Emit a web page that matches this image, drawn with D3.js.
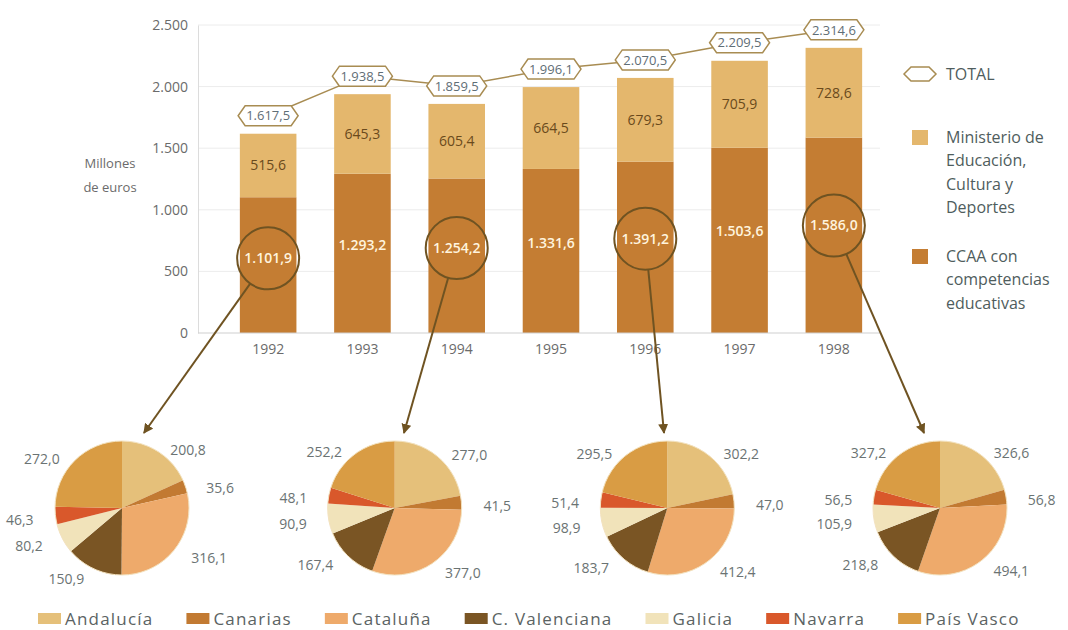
<!DOCTYPE html>
<html><head><meta charset="utf-8">
<script src="https://cdn.jsdelivr.net/npm/d3@7"></script>
<style>
body{margin:0;background:#fff;}
text{font-family:"Open Sans","Noto Sans",sans-serif;}
</style></head>
<body><svg id="c" width="1068" height="630"></svg>
<script>
// ---- data ----
const years = ["1992","1993","1994","1995","1996","1997","1998"];
const ministerio = [515.6, 645.3, 605.4, 664.5, 679.3, 705.9, 728.6];
const ccaa = [1101.9, 1293.2, 1254.2, 1331.6, 1391.2, 1503.6, 1586.0];
const totals = [1617.5, 1938.5, 1859.5, 1996.1, 2070.5, 2209.5, 2314.6];
const yTicks = [0, 500, 1000, 1500, 2000, 2500];
const pieYears = ["1992","1994","1996","1998"];
const regions = ["Andalucía","Canarias","Cataluña","C. Valenciana","Galicia","Navarra","País Vasco"];
const pie1992 = [200.8, 35.6, 316.1, 150.9, 80.2, 46.3, 272.0];
const pie1994 = [277.0, 41.5, 377.0, 167.4, 90.9, 48.1, 252.2];
const pie1996 = [302.2, 47.0, 412.4, 183.7, 98.9, 51.4, 295.5];
const pie1998 = [326.6, 56.8, 494.1, 218.8, 105.9, 56.5, 327.2];
const pieValues = [pie1992, pie1994, pie1996, pie1998];

// ---- setup ----
const svg = d3.select("#c");
svg.append("rect").attr("width",1068).attr("height",630).attr("fill","#fff");
const loc = d3.formatLocale({decimal:",", thousands:".", grouping:[3], currency:["","€"]});
const f1 = loc.format(",.1f"), f0 = loc.format(",.0f");

const plotL = 198, plotR = 880, plotB = 333, plotT = 25;
const x = d3.scaleBand().domain(years).range([221, 881]).paddingInner(0.4).paddingOuter(0.2);
const y = d3.scaleLinear().domain([0, 2500]).range([plotB, plotT]);

const cLight = "#e4b76d", cDark = "#c47d33";
const olive = "#a88c52", ring = "#6f5322";

// grid
svg.append("g").selectAll("line").data(yTicks.filter(d=>d>0)).join("line")
  .attr("x1", plotL).attr("x2", plotR).attr("y1", d=>y(d)).attr("y2", d=>y(d))
  .attr("stroke","#ececec").attr("stroke-width",1);

// y axis
const ya = svg.append("g").attr("transform",`translate(${plotL},0)`)
  .call(d3.axisLeft(y).tickValues(yTicks).tickSize(0).tickPadding(10).tickFormat(f0));
ya.select(".domain").attr("stroke","#dcdcdc");
ya.selectAll("text").attr("font-size",14).attr("fill","#6b6b6b").style("font-family","'Open Sans',sans-serif");

svg.append("text").attr("x",110).attr("y",168).attr("text-anchor","middle")
  .attr("font-size",13).attr("fill","#6b6b6b").text("Millones");
svg.append("text").attr("x",110).attr("y",192).attr("text-anchor","middle")
  .attr("font-size",13).attr("fill","#6b6b6b").text("de euros");

// stacked bars
const table = years.map((yr,i)=>({year:yr, ccaa:ccaa[i], ministerio:ministerio[i]}));
const series = d3.stack().keys(["ccaa","ministerio"])(table);
const colors = {ccaa:cDark, ministerio:cLight};
svg.append("g").selectAll("g").data(series).join("g").attr("fill", s=>colors[s.key])
  .selectAll("rect").data(s=>s).join("rect")
  .attr("x", d=>x(d.data.year)).attr("width", x.bandwidth())
  .attr("y", d=>y(d[1])).attr("height", d=>y(d[0])-y(d[1]));

// baseline
svg.append("line").attr("x1",plotL).attr("x2",plotR).attr("y1",plotB).attr("y2",plotB)
  .attr("stroke","#cfcfcf").attr("stroke-width",1.2);

// x axis
const xa = svg.append("g").attr("transform",`translate(0,${plotB})`)
  .call(d3.axisBottom(x).tickSize(0).tickPadding(11));
xa.select(".domain").remove();
xa.selectAll("text").attr("font-size",14).attr("fill","#6b6b6b").style("font-family","'Open Sans',sans-serif");

// segment labels
svg.append("g").selectAll("text").data(table).join("text")
  .attr("x", d=>x(d.year)+x.bandwidth()/2)
  .attr("y", d=>y(d.ccaa + d.ministerio/2)).attr("dy","0.35em")
  .attr("text-anchor","middle").attr("font-size",14).attr("fill","#6a4a1c")
  .text(d=>f1(d.ministerio));
svg.append("g").selectAll("text").data(table).join("text")
  .attr("x", d=>x(d.year)+x.bandwidth()/2)
  .attr("y", d=>y(d.ccaa*0.55)).attr("dy","0.35em")
  .attr("text-anchor","middle").attr("font-size",14).attr("font-weight",600)
  .attr("fill","#fff4de").text(d=>f1(d.ccaa));

// total line + hexagons
const hex = (cx, cy, w, h) => {
  const t = 7;
  return `M${cx-w/2},${cy}L${cx-w/2+t},${cy-h/2}L${cx+w/2-t},${cy-h/2}L${cx+w/2},${cy}L${cx+w/2-t},${cy+h/2}L${cx-w/2+t},${cy+h/2}Z`;
};
const tot = years.map((yr,i)=>({year:yr, v:totals[i]}));
const hx = d=>x(d.year)+x.bandwidth()/2, hy = d=>y(d.v)-18;
svg.append("path").datum(tot).attr("fill","none").attr("stroke",olive).attr("stroke-width",1.5)
  .attr("d", d3.line().x(hx).y(hy));
const hg = svg.append("g").selectAll("g").data(tot).join("g");
hg.append("path").attr("d", d=>hex(hx(d), hy(d), 60, 20))
  .attr("fill","#fff").attr("stroke",olive).attr("stroke-width",1.5);
hg.append("text").attr("x",hx).attr("y",hy).attr("dy","0.36em").attr("text-anchor","middle")
  .attr("font-size",13).attr("fill","#5f6e76").text(d=>f1(d.v));

// pies
const pieX = d3.scalePoint().domain(pieYears).range([122, 940]);
const pieCY = 508, pieR = 67;
const regColor = d3.scaleOrdinal().domain(regions)
  .range(["#e5c07a","#c27a32","#eeaa6b","#7a5524","#f1e3ba","#d9582b","#d99c44"]);

// circles & arrows
const defs = svg.append("defs");
defs.append("marker").attr("id","ah").attr("viewBox","0 0 10 10").attr("refX",9).attr("refY",5)
  .attr("markerWidth",5).attr("markerHeight",5).attr("orient","auto")
  .append("path").attr("d","M0,0L10,5L0,10Z").attr("fill",ring);

const yi = yr => years.indexOf(yr);
const cr = 31;
pieYears.forEach(yr=>{
  const cx = x(yr)+x.bandwidth()/2, cy = y(ccaa[yi(yr)]*0.55);
  svg.append("circle").attr("cx",cx).attr("cy",cy).attr("r",cr)
    .attr("fill","none").attr("stroke",ring).attr("stroke-width",2);
  const px = pieX(yr), py = pieCY;
  const ex = px - 0.15*(px-cx), ey = py - pieR - 8;
  const dx = ex-cx, dy = ey-cy, L = Math.hypot(dx,dy);
  const s = cr/L;
  svg.append("line").attr("x1",cx+dx*s).attr("y1",cy+dy*s).attr("x2",ex).attr("y2",ey)
    .attr("stroke",ring).attr("stroke-width",2).attr("marker-end","url(#ah)");
});

const pieGen = d3.pie().sort(null).value(d=>d.v);
const arc = d3.arc().innerRadius(0).outerRadius(pieR);
pieYears.forEach((yr,k)=>{
  const data = regions.map((r,i)=>({r, v:pieValues[k][i]}));
  const arcs = pieGen(data);
  const g = svg.append("g").attr("transform",`translate(${pieX(yr)},${pieCY})`);
  g.selectAll("path").data(arcs).join("path").attr("d",arc).attr("fill",d=>regColor(d.data.r));
  g.append("circle").attr("r",pieR).attr("fill","none").attr("stroke","#f3e2bf").attr("stroke-width",1);
  g.selectAll("text").data(arcs).join("text")
    .attr("x", d=>{const a=(d.startAngle+d.endAngle)/2; return Math.sin(a)*(pieR+22);})
    .attr("y", d=>{const a=(d.startAngle+d.endAngle)/2; return -Math.cos(a)*(pieR+7)+4;})
    .attr("dy","0.35em")
    .attr("text-anchor", d=>{const a=(d.startAngle+d.endAngle)/2; return Math.sin(a)>=0?"start":"end";})
    .attr("font-size",14).attr("fill","#6b7373").text(d=>f1(d.data.v));
});

// right legend
const lg = svg.append("g");
const lx = 920, tx = 946;
lg.append("path").attr("d",hex(lx,74,32,14)).attr("fill","#fff").attr("stroke",olive).attr("stroke-width",1.5);
lg.append("text").attr("x",tx).attr("y",74).attr("dy","0.35em").attr("font-size",16).attr("fill","#4f5d5d").text("TOTAL");
const leg2 = [{c:cLight, y:137, lines:["Ministerio de","Educación,","Cultura y","Deportes"]},
              {c:cDark, y:256, lines:["CCAA con","competencias","educativas"]}];
leg2.forEach(it=>{
  lg.append("rect").attr("x",lx-8).attr("y",it.y-7).attr("width",16).attr("height",15).attr("fill",it.c);
  it.lines.forEach((t,i)=>lg.append("text").attr("x",tx).attr("y",it.y+i*23.5).attr("dy","0.35em")
    .attr("font-size",16).attr("fill","#4f5d5d").text(t));
});

// bottom legend
let bx = 38;
const bl = svg.append("g");
regions.forEach(r=>{
  bl.append("rect").attr("x",bx).attr("y",613).attr("width",23).attr("height",11).attr("fill",regColor(r));
  const t = bl.append("text").attr("x",bx+27).attr("y",619).attr("dy","0.35em")
    .attr("font-size",17).attr("letter-spacing",1.2).attr("fill","#5b6363").text(r);
  bx += 27 + t.node().getComputedTextLength() + 33;
});
</script></body></html>
